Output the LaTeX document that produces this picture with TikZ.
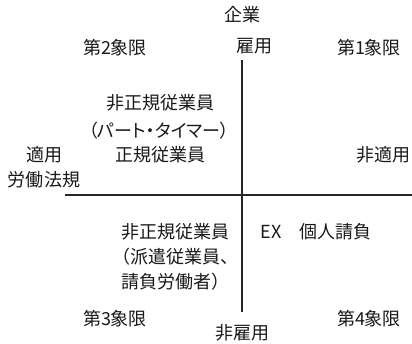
\documentclass[tikz,border=0pt]{standalone}
\usepackage{fontspec}
\setmainfont{Noto Sans CJK JP}
\newfontfamily\paltfont[RawFeature=+palt]{Noto Sans CJK JP}
\begin{document}
\begin{tikzpicture}
  [x=1pt,y=-1pt,every node/.style={inner sep=0pt,text=black!90,font=\fontsize{18}{25}\selectfont},
   axis/.style={line width=1.6pt,black!85}]
  \useasboundingbox (0,0) rectangle (412,344);

  % axes
  \coordinate (top) at (242,60);
  \coordinate (bottom) at (242,312);
  \coordinate (left) at (65,195);
  \coordinate (right) at (412,195);
  \draw[axis] (top) -- (bottom);
  \draw[axis] (left) -- (right);

  % axis labels
  \node (kigyo) at (242,15) {企業};
  \node (koyo) at (254,46) {雇用};
  \node (hikoyo) at (242,333) {非雇用};
  \node (tekiyo) at (44,155) {適用};
  \node (hoki) at (44,180) {労働法規};
  \node (hitekiyo) at (383,155) {非適用};

  % quadrants
  \node (q2) at (115,48) {第2象限};
  \node (q1) at (369,48) {第1象限};
  \node (q3) at (115,319) {第3象限};
  \node (q4) at (369,319) {第4象限};

  % employees
  \node (part) at (160,103) {非正規従業員};
  \node (partsub) at (159,131) {\paltfont（パート・タイマー）};
  \node (seiki) at (160,155) {正規従業員};
  \node (haken) at (175,257) [align=center] {非正規従業員\\（派遣従業員、\\請負労働者）};
  \node (ex) at (316,232) {EX　個人請負};

\end{tikzpicture}
\end{document}
